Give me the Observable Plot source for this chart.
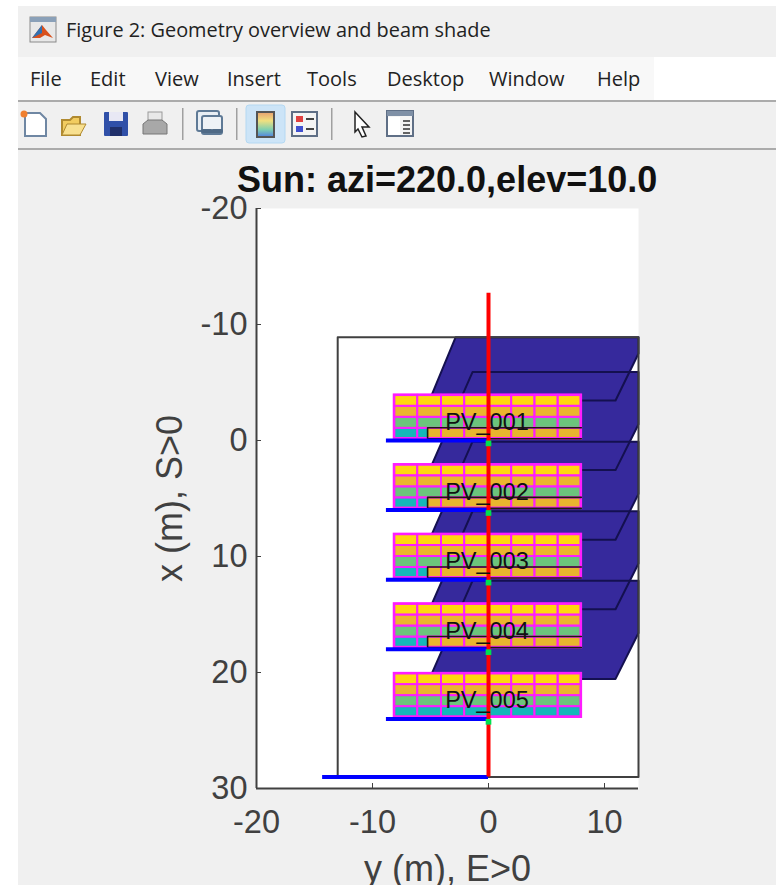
<!DOCTYPE html>
<html>
<head>
<meta charset="utf-8">
<script src="https://cdn.jsdelivr.net/npm/d3@7"></script>
<script src="https://cdn.jsdelivr.net/npm/@observablehq/plot@0.6"></script>
<style>
html,body{margin:0;padding:0;background:#fff;width:776px;height:885px;overflow:hidden}
#win{position:absolute;left:18px;top:6px;width:758px;height:879px;background:#f0f0f0}
#menubar{position:absolute;left:18px;top:57px;width:636px;height:44px;background:#f8f8f8}
#menuright{position:absolute;left:654px;top:57px;width:122px;height:44px;background:#fff}
.sep{position:absolute;left:18px;width:758px;height:2px;background:#ababab}
.t{position:absolute;font-family:"Open Sans","Noto Sans",sans-serif;color:#222;white-space:nowrap;line-height:1}
#title{position:absolute;left:237px;top:159px;font:bold 36px "Liberation Sans",Arial,sans-serif;color:#111;white-space:nowrap}
#plot{position:absolute;left:0;top:158px}
#plot svg{background:transparent;display:block}
#icons{position:absolute;left:0;top:0}
</style>
</head>
<body>
<div id="win"></div>
<div id="menubar"></div>
<div id="menuright"></div>
<div class="sep" style="top:100px"></div>
<div class="sep" style="top:148px"></div>
<div class="t" style="left:66px;top:20px;font-size:19.9px" id="wintitle">Figure 2: Geometry overview and beam shade</div>
<div id="menus"></div>
<div id="plot"></div>
<div id="title">Sun: azi=220.0,elev=10.0</div>
<svg id="icons" width="430" height="150" viewBox="0 0 430 150" role="presentation">
  <defs>
    <linearGradient id="cb" x1="0" y1="0" x2="0" y2="1">
      <stop offset="0" stop-color="#e8a070"/><stop offset=".35" stop-color="#f0e080"/><stop offset=".7" stop-color="#80d0b0"/><stop offset="1" stop-color="#5080e0"/>
    </linearGradient>
  </defs>
  <rect x="30" y="17" width="26" height="25" fill="#e8e8e8" stroke="#8a8a8a"/>
  <rect x="30" y="17" width="26" height="5" fill="#8aa0b8"/>
  <path d="M32 38 L42 25 L46 30 L53 38 L45 35 L40 38Z" fill="#d8501c"/>
  <path d="M32 38 L42 25 L42 33Z" fill="#3070b0"/>
  <path d="M25 113 H40 L46 119 V136 H25Z" fill="#fff" stroke="#6f87a3" stroke-width="2"/>
  <circle cx="24" cy="114" r="3.5" fill="#f08030"/>
  <path d="M62 120 H70 L73 117 H80 V135 H62Z" fill="#f2cc60" stroke="#b08a30" stroke-width="2"/>
  <path d="M62 135 L67 124 H86 L80 135Z" fill="#f8e090" stroke="#b08a30"/>
  <rect x="104" y="112" width="24" height="24" fill="#3050a8" rx="1"/>
  <rect x="109" y="112" width="14" height="9" fill="#e8e8f4"/>
  <rect x="110" y="127" width="12" height="9" fill="#20306a"/>
  <rect x="148" y="112" width="14" height="9" fill="#e8e8e8" stroke="#9a9a9a"/>
  <path d="M143 124 L148 120 H162 L167 124 V134 H143Z" fill="#a8a8a8" stroke="#777"/>
  <rect x="182" y="108" width="1.5" height="32" fill="#a0a0a0"/>
  <rect x="197" y="111" width="22" height="20" fill="#e8eef4" stroke="#5f7a96" stroke-width="2" rx="2"/>
  <rect x="202" y="116" width="20" height="18" fill="#eef2f6" stroke="#5f7a96" stroke-width="2" rx="2"/>
  <path d="M203 131 h8 M213 131 h8" stroke="#4f6a86" stroke-width="4" stroke-linecap="round"/>
  <rect x="236" y="108" width="1.5" height="32" fill="#a0a0a0"/>
  <rect x="246" y="105" width="39" height="38" rx="3" fill="#cce4f7" stroke="#b4d8f2"/>
  <rect x="257" y="112" width="17" height="25" fill="url(#cb)" stroke="#555" stroke-width="2"/>
  <rect x="292" y="112" width="25" height="24" fill="#f4f4f4" stroke="#5f6f86" stroke-width="2"/>
  <rect x="296" y="116" width="7" height="6" fill="#e04040"/>
  <rect x="296" y="126" width="7" height="6" fill="#4050d0"/>
  <path d="M306 119 h8 M306 129 h8" stroke="#444" stroke-width="2"/>
  <rect x="331" y="108" width="1.5" height="32" fill="#a0a0a0"/>
  <path d="M355 112 L369 127 L362 127 L366 136 L362 137 L358 129 L355 132Z" fill="#fff" stroke="#222" stroke-width="1.5"/>
  <rect x="387" y="111" width="26" height="25" fill="#f4f4f4" stroke="#5f6f86" stroke-width="2"/>
  <rect x="387" y="111" width="26" height="5" fill="#7f90a6"/>
  <rect x="388" y="117" width="12" height="18" fill="#fff"/>
  <path d="M403 121 h7 M403 125 h7 M403 129 h7 M403 133 h7" stroke="#333" stroke-width="1.5"/>
</svg>
<script>
// Menu bar
const menuLabels = ["File","Edit","View","Insert","Tools","Desktop","Window","Help"];
const menuLefts = [30,90,155,227,307,387,489,597];
document.getElementById("menus").innerHTML = menuLabels.map((m,i)=>
  `<div class="t" style="left:${menuLefts[i]}px;top:69px;font-size:20px">${m}</div>`).join("");

// Chart values (metres)
const rowBases = [0,6,12,18,24];
const rowNames = ["PV_001","PV_002","PV_003","PV_004","PV_005"];
const cellEdges = [-8.1,-6.1,-4.05,-2.05,0,2,4,6,8];
const rowTopOffsets = [-3.9,-2.95,-2.0,-1.05];
const rowBottomOffsets = [-2.95,-2.0,-1.05,-0.15];
const rowColors = ["#ffd70e","#ebb52e","#6cc47c","#14b7b9"];
const shadedBase = [0,6,12,18];
const shadeRows = [6,12,18,24];
const xTicks = [-20,-10,0,10];
const yTicks = [-20,-10,0,10,20,30];

// Tables built from them
const cells = [];
for (const b of rowBases) for (let c=0;c<8;c++) for (let r=0;r<4;r++)
  cells.push({y1:cellEdges[c],y2:cellEdges[c+1],x1:b+rowTopOffsets[r],x2:b+rowBottomOffsets[r],color:rowColors[r]});

const shade = [
  {row:0,y:-5.09,x:-3.45},{row:0,y:10.95,x:-3.45},{row:0,y:12.93,x:-7.5},{row:0,y:12.93,x:-8.9},{row:0,y:-2.84,x:-8.9},{row:0,y:-5.09,x:-3.45}
];
for (const b of shadeRows) {
  shade.push({row:b,y:-5.09,x:b-3.45},{row:b,y:10.95,x:b-3.45},{row:b,y:12.93,x:b-7.4},{row:b,y:12.93,x:b-11.9},{row:b,y:-1.38,x:b-11.9},{row:b,y:-5.09,x:b-3.45});
}
const ground = [{y:12.93,x:-8.9},{y:-13,x:-8.9},{y:-13,x:29},{y:12.93,x:29},{y:12.93,x:-8.9}];
const overlayPath = [];
for (const b of shadedBase) overlayPath.push({b,y:8,x:b-1.1},{b,y:-5.25,x:b-1.1},{b,y:-5.25,x:b-0.15},{b,y:8,x:b-0.15});

const fontFam = '"Liberation Sans",Arial,sans-serif';
const axisColor = "#404040";

const chart = Plot.plot({
  width:776, height:727,
  marginLeft:256, marginRight:138, marginTop:50, marginBottom:97,
  style:{background:"transparent",fontFamily:fontFam},
  x:{domain:[-20,12.93]},
  y:{domain:[-20,30],reverse:true},
  marks:[
    Plot.frame({fill:"#fff",stroke:null}),
    Plot.line(shade,{x:"y",y:"x",z:"row",fill:"#36299c",stroke:"none"}),
    Plot.line(shade,{x:"y",y:"x",z:"row",stroke:"#141050",strokeWidth:2}),
    Plot.line(ground,{x:"y",y:"x",stroke:axisColor,strokeWidth:2}),
    Plot.rect(cells,{x1:"y1",x2:"y2",y1:"x1",y2:"x2",fill:"color"}),
    Plot.rect(shadedBase,{x1:-5.25,x2:8,y1:b=>b-1.1,y2:b=>b-0.15,fill:"#e8b52e"}),
    Plot.rect(cells,{x1:"y1",x2:"y2",y1:"x1",y2:"x2",stroke:"#ff1cff",strokeWidth:1.8,fill:"none"}),
    Plot.rect(rowBases,{x1:cellEdges[0],x2:cellEdges[8],y1:b=>b+rowTopOffsets[0],y2:b=>b+rowBottomOffsets[3],stroke:"#ff1cff",strokeWidth:2.6,fill:"none"}),
    Plot.line(overlayPath,{x:"y",y:"x",z:"b",stroke:"#1c1a10",strokeWidth:1.6}),
    Plot.ruleY(rowBases,{x1:-8.8,x2:0,stroke:"#0000ff",strokeWidth:4}),
    Plot.ruleY([29],{x1:-14.3,x2:0,stroke:"#0000ff",strokeWidth:4}),
    Plot.ruleX([0],{y1:-12.7,y2:29,stroke:"#ff0000",strokeWidth:4}),
    Plot.dot(rowBases,{x:0,y:b=>b+0.25,symbol:"square",r:3.2,fill:"#00e050",stroke:"none"}),
    Plot.text(rowBases,{x:0,y:b=>b-1.55,dx:-1.5,text:(b,i)=>rowNames[i],fontSize:23.5,fill:"#111",fontFamily:fontFam}),
    Plot.ruleX([-20],{stroke:axisColor,strokeWidth:2}),
    Plot.ruleY([30],{stroke:axisColor,strokeWidth:2}),
    Plot.axisY({ticks:yTicks,tickSize:-5,tickPadding:14,fontSize:32.5,stroke:axisColor,color:axisColor,fill:axisColor,label:null,tickFormat:d=>String(d)}),
    Plot.axisX({ticks:xTicks,tickSize:-5,tickPadding:26,fontSize:32.5,stroke:axisColor,color:axisColor,fill:axisColor,label:null,tickFormat:d=>String(d)}),
    Plot.text(["x (m), S>0"],{frameAnchor:"left",textAnchor:"middle",rotate:-90,dx:-86,fontSize:36,fill:axisColor,fontFamily:fontFam}),
    Plot.text(["y (m), E>0"],{frameAnchor:"bottom",textAnchor:"middle",lineAnchor:"middle",dy:81,fontSize:36,fill:axisColor,fontFamily:fontFam})
  ]
});
document.getElementById("plot").appendChild(chart);
</script>
</body>
</html>
